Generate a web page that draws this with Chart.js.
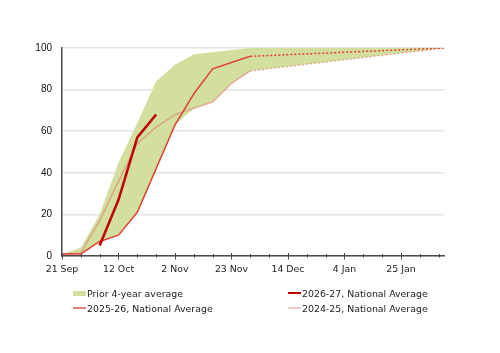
<!DOCTYPE html>
<html lang="en">

<head>
    <meta charset="UTF-8">
    <title>Progresso nacional</title>
    <script src="https://cdn.jsdelivr.net/npm/chart.js"></script>
    <style>
        body { margin: 0; background: #fff; }
        .area { position: relative; width: 500px; height: 353px; }
        .legenda { position: absolute; font-family: "DejaVu Sans", sans-serif; font-size: 9.4px; color: #222;
                   display: flex; align-items: center; height: 14px; white-space: nowrap; }
        .marca { width: 13px; margin-right: 1px; }
    </style>
</head>

<body>
    <div class="area">
        <canvas id="grafico" width="500" height="353"></canvas>
        <div id="legendas"></div>
    </div>

<script>
    // dias contados a partir de 21 Sep (uma leitura por semana)
    const dias = [0, 7, 14, 21, 28, 35, 42, 49, 56, 63, 70, 142];
    const faixaMax = [1, 4, 20, 45, 64, 84, 92, 97, 98, 99, 100, 100];
    const faixaMin = [1, 1, 7, 10, 21, 42, 63, 71, 74, 83, 89, 100];
    const media2526 = [1, 1, 7, 10, 21, 42, 63, 78, 90, 93, 96, 100];
    const media2425 = [1, 1.5, 17, 36, 54, 62, 68, 71, 74, 83, 89, 100];

    const dias2627 = [14, 21, 28, 35];
    const media2627 = [5, 27, 57, 68];

    const rotulosX = ['21 Sep', '12 Oct', '2 Nov', '23 Nov', '14 Dec', '4 Jan', '25 Jan'];
    const ticksY = [0, 20, 40, 60, 80, 100];

    const verde = '#d2df9f';
    const cor2627 = '#c00000';
    const cor2526 = '#dd4433';
    const cor2425 = 'rgba(230, 110, 100, 0.5)';

    function pontos(xs, ys) {
        return xs.map((x, i) => ({ x: x, y: ys[i] }));
    }

    // depois de 30 Nov a linha fica pontilhada
    const pontilhado = {
        borderDash: ctx => ctx.p0.parsed.x >= 70 ? [2, 2] : undefined
    };

    // marcas do eixo x (semanais, maiores a cada 3 semanas)
    const marcasX = {
        id: 'marcasX',
        afterDraw(chart) {
            const ctx = chart.ctx;
            const x = chart.scales.x;
            const base = chart.chartArea.bottom;
            ctx.save();
            ctx.strokeStyle = '#444';
            ctx.lineWidth = 1;
            for (let d = 0; d <= 140; d += 7) {
                const px = Math.round(x.getPixelForValue(d)) + 0.5;
                const grande = d % 21 === 0;
                ctx.beginPath();
                ctx.moveTo(px, base - (grande ? 3 : 2));
                ctx.lineTo(px, base + (grande ? 3.5 : 1.5));
                ctx.stroke();
            }
            ctx.restore();
        }
    };

    const dados = {
        datasets: [
            {
                label: '2026-27, National Average',
                data: pontos(dias2627, media2627),
                borderColor: cor2627,
                borderWidth: 2.5,
                pointRadius: 0,
                fill: false
            },
            {
                label: '2025-26, National Average',
                data: pontos(dias, media2526),
                borderColor: cor2526,
                borderWidth: 1.5,
                pointRadius: 0,
                fill: false,
                segment: pontilhado
            },
            {
                label: '2024-25, National Average',
                data: pontos(dias, media2425),
                borderColor: cor2425,
                borderWidth: 1.5,
                pointRadius: 0,
                fill: false,
                segment: pontilhado
            },
            {
                label: 'Prior 4-year average',
                data: pontos(dias, faixaMax),
                borderWidth: 0,
                borderColor: 'rgba(0,0,0,0)',
                backgroundColor: verde,
                pointRadius: 0,
                fill: '+1'
            },
            {
                label: 'min',
                data: pontos(dias, faixaMin),
                borderWidth: 0,
                borderColor: 'rgba(0,0,0,0)',
                pointRadius: 0,
                fill: false
            }
        ]
    };

    const config = {
        type: 'line',
        data: dados,
        options: {
            responsive: false,
            animation: false,
            layout: { padding: { top: 48, right: 56, bottom: 67, left: 0 } },
            plugins: {
                legend: { display: false },
                tooltip: { enabled: false }
            },
            elements: { line: { tension: 0 } },
            scales: {
                x: {
                    type: 'linear',
                    min: 0,
                    max: 142,
                    grid: { display: false, drawTicks: false },
                    border: { display: true, color: '#4a4a4a', width: 1.5 },
                    ticks: {
                        stepSize: 7,
                        autoSkip: false,
                        maxRotation: 0,
                        padding: 7.5,
                        color: '#222',
                        font: { family: 'DejaVu Sans', size: 9.4 },
                        callback: v => v % 21 === 0 ? rotulosX[v / 21] : ''
                    },
                    afterFit: s => { s.height = 30; }
                },
                y: {
                    min: 0,
                    max: 100,
                    afterBuildTicks: s => { s.ticks = ticksY.map(v => ({ value: v })); },
                    grid: { color: '#e4e4e4', lineWidth: 1.5, drawTicks: false },
                    border: { display: true, color: '#4a4a4a', width: 1.5 },
                    ticks: {
                        padding: 10,
                        color: '#111',
                        font: { family: 'Liberation Sans', size: 10 }
                    },
                    afterFit: s => { s.width = 62; }
                }
            }
        },
        plugins: [marcasX]
    };

    new Chart(document.getElementById('grafico'), config);

    // legenda em duas colunas, embaixo do gráfico
    const legendas = [
        { texto: 'Prior 4-year average', tipo: 'caixa', cor: verde, x: 73, y: 286 },
        { texto: '2026-27, National Average', tipo: 'linha', cor: cor2627, grossura: 2.5, x: 288, y: 286 },
        { texto: '2025-26, National Average', tipo: 'linha', cor: '#e07f7a', grossura: 2, x: 73, y: 301 },
        { texto: '2024-25, National Average', tipo: 'linha', cor: '#f5cccb', grossura: 2, x: 288, y: 301 }
    ];

    let html = '';
    for (const l of legendas) {
        const alt = l.tipo === 'caixa' ? 5 : l.grossura;
        html += `<div class="legenda" style="left:${l.x}px;top:${l.y}px">
            <div class="marca" style="height:${alt}px;background:${l.cor}"></div>${l.texto}</div>`;
    }
    document.getElementById('legendas').innerHTML = html;
</script>

</body>

</html>
